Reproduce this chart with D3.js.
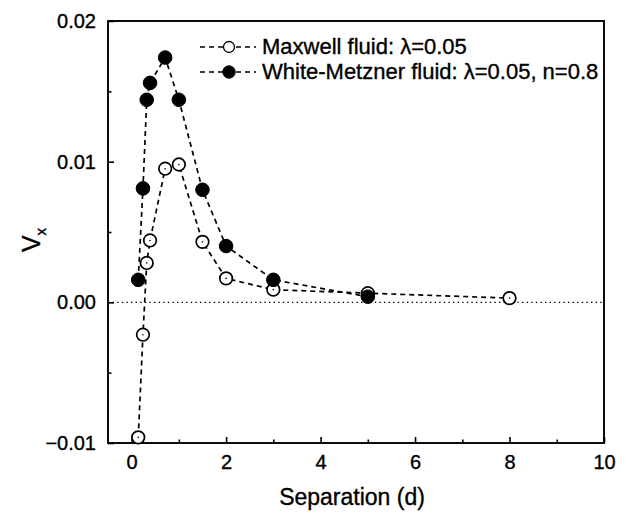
<!DOCTYPE html>
<html>
<head>
<meta charset="utf-8">
<script src="https://cdn.jsdelivr.net/npm/d3@7"></script>
<style>
  body { margin: 0; background: #fff; }
  svg { font-family: "Liberation Sans", Arial, sans-serif; }
  text { stroke: #000; stroke-width: 0.35px; }
</style>
</head>
<body>
<div id="chart"></div>
<script>
'use strict';

// separation values (d) and velocity Vx
const maxwellSep = [0.14, 0.24, 0.32, 0.39, 0.71, 1.0, 1.5, 2.0, 3.0, 5.0, 8.0];
const maxwellVx  = [-0.0096, -0.0023, 0.0028, 0.0044, 0.0095, 0.0098, 0.0043, 0.0017, 0.0009, 0.00065, 0.0003];

const wmSep = [0.14, 0.24, 0.32, 0.39, 0.71, 1.0, 1.5, 2.0, 3.0, 5.0];
const wmVx  = [0.0016, 0.0081, 0.0144, 0.0156, 0.0174, 0.0144, 0.0080, 0.0040, 0.0016, 0.0004];

const xTicks = [0, 2, 4, 6, 8, 10];
const yTicks = [-0.01, 0.00, 0.01, 0.02];
const legendLabels = ['Maxwell fluid: \u03bb=0.05', 'White-Metzner fluid: \u03bb=0.05, n=0.8'];

const width = 630, height = 513;
const margin = {left: 108, right: 26, top: 21, bottom: 70};

const svg = d3.select('#chart').append('svg')
    .attr('width', width)
    .attr('height', height);

const x = d3.scaleLinear().domain([-0.5, 10]).range([margin.left, width - margin.right]);
const y = d3.scaleLinear().domain([-0.01, 0.02]).range([height - margin.bottom, margin.top]);

// zero line (dotted)
svg.append('line')
    .attr('x1', x(-0.5)).attr('x2', x(10))
    .attr('y1', y(0)).attr('y2', y(0))
    .attr('stroke', '#000')
    .attr('stroke-width', 1.3)
    .attr('stroke-dasharray', '1.4,3.2');

// axes with inward ticks
let xAxis = d3.axisBottom(x).tickValues(xTicks).tickSize(-6).tickPadding(12).tickFormat(d3.format('d'));
let xMinor = d3.axisBottom(x).tickValues([1, 3, 5, 7, 9]).tickSize(-3.5).tickFormat('');
let yAxis = d3.axisLeft(y).tickValues(yTicks).tickSize(-6).tickPadding(12).tickFormat(d3.format('.2f'));
let yMinor = d3.axisLeft(y).tickValues([-0.005, 0.005, 0.015]).tickSize(-3.5).tickFormat('');

function styleAxis(g) {
    g.select('.domain').remove();
    g.selectAll('.tick line').attr('stroke', '#000').attr('stroke-width', 1.6);
    g.selectAll('.tick text').attr('fill', '#000').style('font-size', '20px');
}

svg.append('g').attr('transform', `translate(0,${y(-0.01)})`).call(xAxis).call(styleAxis);
svg.append('g').attr('transform', `translate(0,${y(-0.01)})`).call(xMinor).call(styleAxis);
svg.append('g').attr('transform', `translate(${x(-0.5)},0)`).call(yAxis).call(styleAxis);
svg.append('g').attr('transform', `translate(${x(-0.5)},0)`).call(yMinor).call(styleAxis);

// frame
svg.append('rect')
    .attr('x', x(-0.5)).attr('y', y(0.02))
    .attr('width', x(10) - x(-0.5))
    .attr('height', y(-0.01) - y(0.02))
    .attr('fill', 'none')
    .attr('stroke', '#000')
    .attr('stroke-width', 1.9);

// axis titles
svg.append('text')
    .attr('x', (x(-0.5) + x(10)) / 2 - 4)
    .attr('y', 505)
    .attr('text-anchor', 'middle')
    .style('font-size', '23px')
    .text('Separation (d)');

let vLabel = svg.append('text')
    .attr('transform', `translate(40,${(y(-0.01) + y(0.02)) / 2 + 8}) rotate(-90)`)
    .attr('text-anchor', 'middle')
    .style('font-size', '25px');
vLabel.append('tspan').text('V');
vLabel.append('tspan').attr('dy', 6).style('font-size', '15px').text('x');

// series
const line = d3.line().x(d => x(d[0])).y(d => y(d[1]));

function drawSeries(sep, vx, filled) {
    let pts = sep.map((s, i) => [s, vx[i]]);
    svg.append('path')
        .datum(pts)
        .attr('d', line)
        .attr('fill', 'none')
        .attr('stroke', '#000')
        .attr('stroke-width', 1.7)
        .attr('stroke-dasharray', '5,4');
    let g = svg.append('g');
    g.selectAll('circle')
        .data(pts)
        .enter()
        .append('circle')
        .attr('cx', d => x(d[0]))
        .attr('cy', d => y(d[1]))
        .attr('r', filled ? 6.8 : 6.3)
        .attr('fill', filled ? '#000' : '#fff')
        .attr('stroke', '#000')
        .attr('stroke-width', filled ? 1 : 1.7);
    if (!filled) {
        g.selectAll('.dot')
            .data(pts)
            .enter()
            .append('circle')
            .attr('class', 'dot')
            .attr('cx', d => x(d[0]))
            .attr('cy', d => y(d[1]))
            .attr('r', 0.8)
            .attr('fill', '#000');
    }
}

drawSeries(maxwellSep, maxwellVx, false);
drawSeries(wmSep, wmVx, true);

// legend
const legend = svg.append('g');
legendLabels.forEach((label, i) => {
    let ly = 47 + i * 25;
    legend.append('line')
        .attr('x1', 200).attr('x2', 256)
        .attr('y1', ly).attr('y2', ly)
        .attr('stroke', '#000')
        .attr('stroke-width', 1.4)
        .attr('stroke-dasharray', '5,4');
    legend.append('circle')
        .attr('cx', 229).attr('cy', ly)
        .attr('r', i === 0 ? 5.5 : 6.2)
        .attr('fill', i === 0 ? '#fff' : '#000')
        .attr('stroke', '#000')
        .attr('stroke-width', i === 0 ? 1.3 : 1);
    legend.append('text')
        .attr('x', 262).attr('y', ly + 7)
        .style('font-size', '22px')
        .text(label);
});
</script>
</body>
</html>
